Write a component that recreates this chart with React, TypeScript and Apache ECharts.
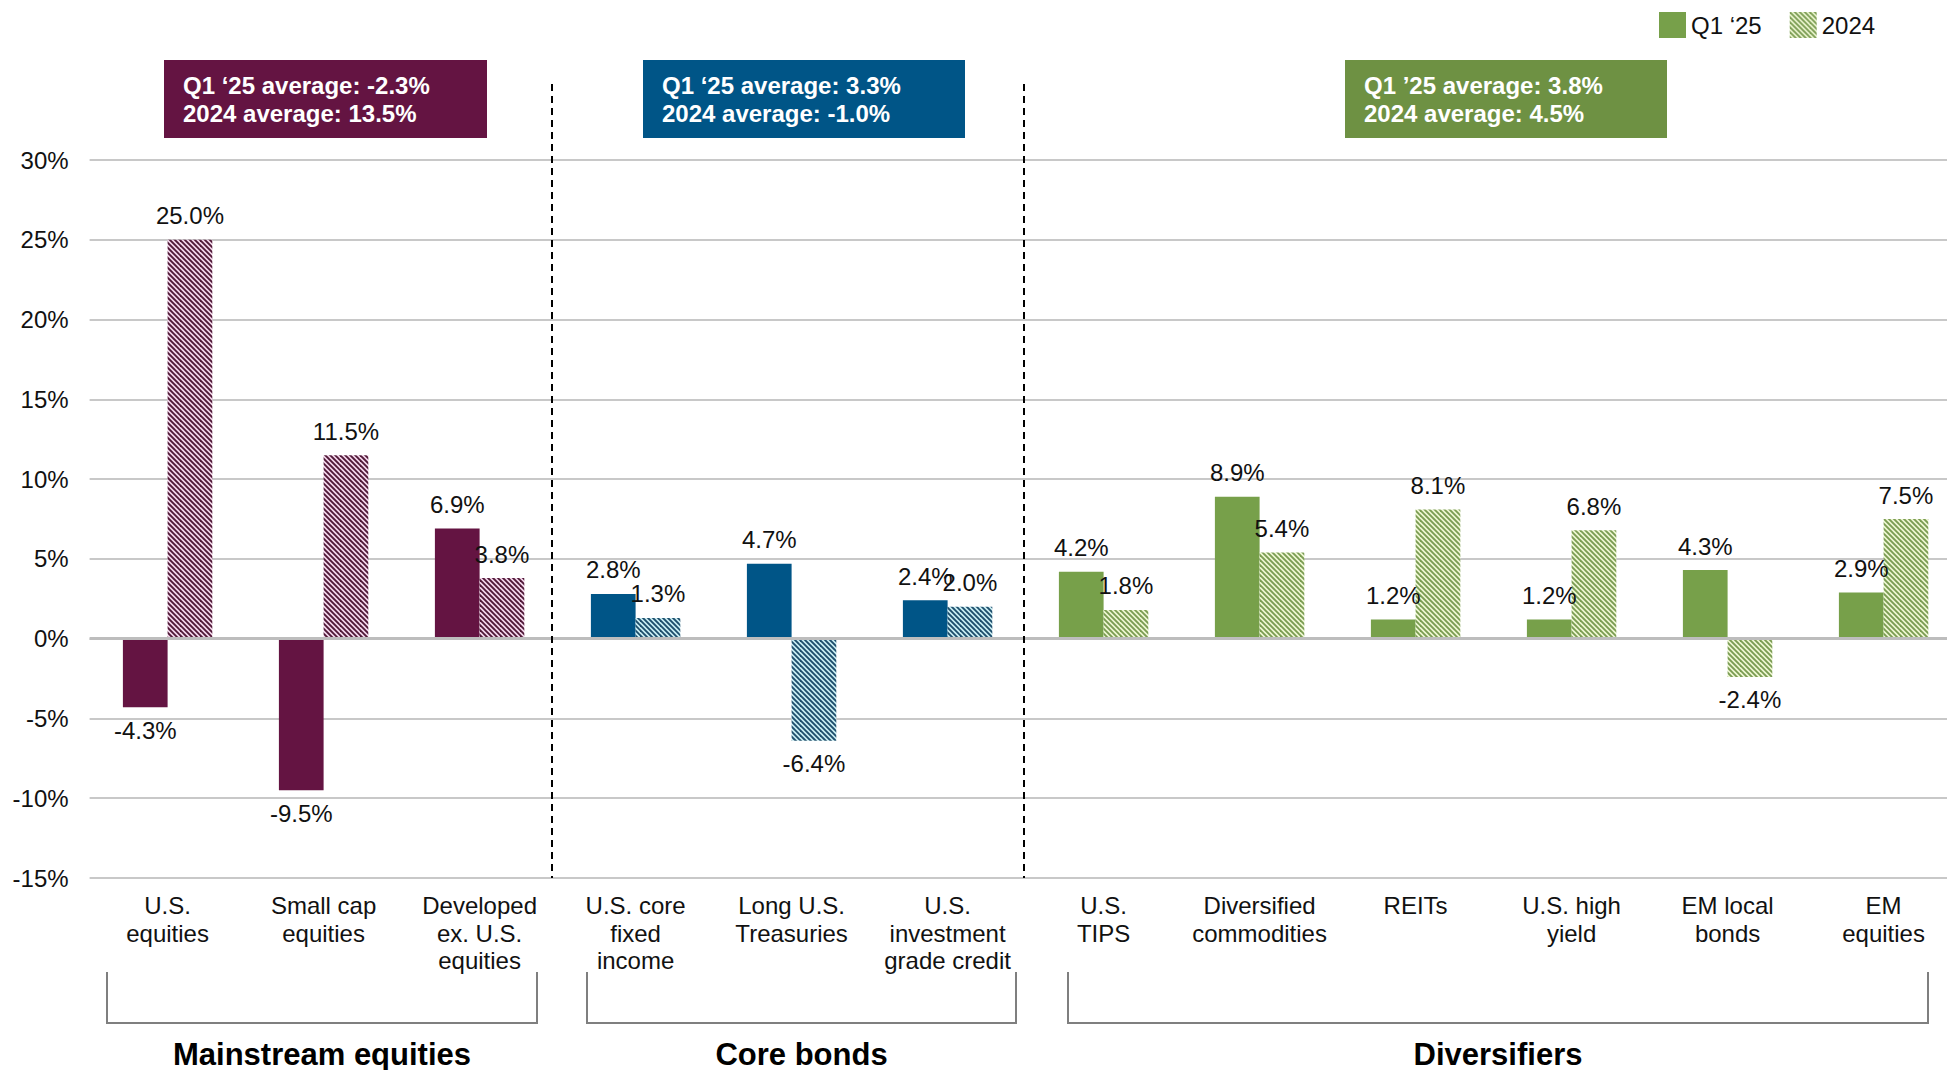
import React, { useEffect, useRef } from 'react';
import * as echarts from 'echarts';

const categories = [
  'U.S.\nequities',
  'Small cap\nequities',
  'Developed\nex. U.S.\nequities',
  'U.S. core\nfixed\nincome',
  'Long U.S.\nTreasuries',
  'U.S.\ninvestment\ngrade credit',
  'U.S.\nTIPS',
  'Diversified\ncommodities',
  'REITs',
  'U.S. high\nyield',
  'EM local\nbonds',
  'EM\nequities',
];
const q1Values = [-4.3, -9.5, 6.9, 2.8, 4.7, 2.4, 4.2, 8.9, 1.2, 1.2, 4.3, 2.9];
const y2024Values = [25.0, 11.5, 3.8, 1.3, -6.4, 2.0, 1.8, 5.4, 8.1, 6.8, -2.4, 7.5];
const categoryGroup = [0, 0, 0, 1, 1, 1, 2, 2, 2, 2, 2, 2];
const groupNames = ['Mainstream equities', 'Core bonds', 'Diversifiers'];
const groupBoxTexts = [
  'Q1 ‘25 average: -2.3%\n2024 average: 13.5%',
  'Q1 ‘25 average: 3.3%\n2024 average: -1.0%',
  'Q1 ’25 average: 3.8%\n2024 average: 4.5%',
];
const seriesNames = ['Q1 ‘25', '2024'];
const yTicks = { min: -15, max: 30, interval: 5 };

const groupSolid = ['#641442', '#005587', '#77a04a'];
const groupBoxColor = ['#641442', '#005587', '#6e9143'];
const groupHatch = [
  ['#f3d6ec', '#4f1836'],
  ['#c9eef3', '#1d4d6b'],
  ['#eef7d2', '#7a9c52'],
];

const FONT = "'Liberation Sans', Arial, sans-serif";

function makeHatch(bg: string, fg: string) {
  const s = 5;
  const n = 4;
  const size = s * n;
  const c = document.createElement('canvas');
  c.width = size;
  c.height = size;
  const ctx = c.getContext('2d')!;
  ctx.fillStyle = bg;
  ctx.fillRect(0, 0, size, size);
  ctx.strokeStyle = fg;
  ctx.lineWidth = 1.9;
  for (let k = -2 * n; k <= 2 * n; k++) {
    ctx.beginPath();
    ctx.moveTo(-size, -size + k * s);
    ctx.lineTo(2 * size, 2 * size + k * s);
    ctx.stroke();
  }
  return { image: c, repeat: 'repeat', imageWidth: size, imageHeight: size } as any;
}

export default function App() {
  const ref = useRef<HTMLDivElement>(null);

  useEffect(() => {
    document.body.style.margin = '0';
    const chart = echarts.init(ref.current!, null, { renderer: 'svg' });

    const gridLeft = 89.6;
    const gridWidth = 1872;
    const gridTop = 160;
    const gridBottom = 878;

    const hatches = groupHatch.map(([bg, fg]) => makeHatch(bg, fg));

    const labelStyle = (v: number) => ({
      show: true,
      position: v < 0 ? 'bottom' : 'top',
      distance: v < 0 ? 11 : 12,
      formatter: (p: any) => `${Number(p.value).toFixed(1)}%`,
      fontSize: 24,
      fontFamily: FONT,
      color: '#111',
    });

    const q1Data = q1Values.map((v, i) => ({
      value: v,
      itemStyle: { color: groupSolid[categoryGroup[i]] },
      label: labelStyle(v),
    }));
    const y24Data = y2024Values.map((v, i) => ({
      value: v,
      itemStyle: { color: hatches[categoryGroup[i]] },
      label: labelStyle(v),
    }));

    const graphics: any[] = [];
    const boxes = [
      [164, 487],
      [643, 965],
      [1345, 1667],
    ];
    boxes.forEach(([x1, x2], g) => {
      graphics.push({
        type: 'rect',
        shape: { x: x1, y: 60, width: x2 - x1, height: 78 },
        style: { fill: groupBoxColor[g] },
        z: 10,
      });
      graphics.push({
        type: 'text',
        x: x1 + 19,
        y: 99,
        style: {
          text: groupBoxTexts[g],
          fill: '#fff',
          font: `bold 24px ${FONT}`,
          lineHeight: 28,
          verticalAlign: 'middle',
          align: 'left',
        },
        z: 11,
      });
    });

    [552, 1024].forEach((x) => {
      graphics.push({
        type: 'line',
        shape: { x1: x, y1: 84, x2: x, y2: gridBottom },
        style: { stroke: '#000', lineWidth: 2, lineDash: [7, 5] },
        z: 10,
      });
    });

    const brackets = [
      [107, 537],
      [587, 1016],
      [1068, 1928],
    ];
    brackets.forEach(([x1, x2], g) => {
      graphics.push({
        type: 'polyline',
        shape: {
          points: [
            [x1, 972],
            [x1, 1023],
            [x2, 1023],
            [x2, 972],
          ],
        },
        style: { stroke: '#7f7f7f', lineWidth: 2, fill: 'none' },
        z: 10,
      });
      graphics.push({
        type: 'text',
        x: (x1 + x2) / 2,
        y: 1054,
        style: {
          text: groupNames[g],
          fill: '#000',
          font: `bold 31px ${FONT}`,
          align: 'center',
          verticalAlign: 'middle',
        },
        z: 10,
      });
    });

    chart.setOption({
      animation: false,
      backgroundColor: '#fff',
      textStyle: { fontFamily: FONT },
      legend: {
        left: 1659,
        top: 12,
        padding: 0,
        itemWidth: 27,
        itemHeight: 26,
        itemGap: 28,
        icon: 'rect',
        textStyle: { fontSize: 24, fontFamily: FONT, color: '#111' },
        data: seriesNames,
      },
      grid: {
        left: gridLeft,
        width: gridWidth,
        top: gridTop,
        height: gridBottom - gridTop,
        containLabel: false,
        outerBoundsMode: 'none',
      },
      xAxis: {
        type: 'category',
        data: categories,
        axisLine: { show: false, onZero: false },
        axisTick: { show: false },
        axisLabel: {
          interval: 0,
          margin: 14,
          fontSize: 24,
          lineHeight: 27.5,
          fontFamily: FONT,
          color: '#111',
          verticalAlign: 'top',
          hideOverlap: false,
        },
      },
      yAxis: {
        type: 'value',
        min: yTicks.min,
        max: yTicks.max,
        interval: yTicks.interval,
        axisLine: { show: false },
        axisTick: { show: false },
        axisLabel: {
          formatter: (v: number) => `${v}%`,
          fontSize: 24,
          fontFamily: FONT,
          color: '#111',
          margin: 21,
        },
        splitLine: { lineStyle: { color: '#c8c8c8', width: 2 } },
      },
      series: [
        {
          name: seriesNames[0],
          type: 'bar',
          barWidth: 44.7,
          barGap: '0%',
          itemStyle: { color: groupSolid[2] },
          data: q1Data,
          markLine: {
            silent: true,
            symbol: 'none',
            label: { show: false },
            lineStyle: { color: '#bdbdbd', width: 3, type: 'solid' },
            data: [{ yAxis: 0 }],
          },
        },
        {
          name: seriesNames[1],
          type: 'bar',
          barWidth: 44.7,
          barGap: '0%',
          itemStyle: { color: hatches[2] },
          data: y24Data,
        },
      ],
      graphic: graphics,
    });

    return () => chart.dispose();
  }, []);

  return <div ref={ref} style={{ width: 1947, height: 1070 }} />;
}
